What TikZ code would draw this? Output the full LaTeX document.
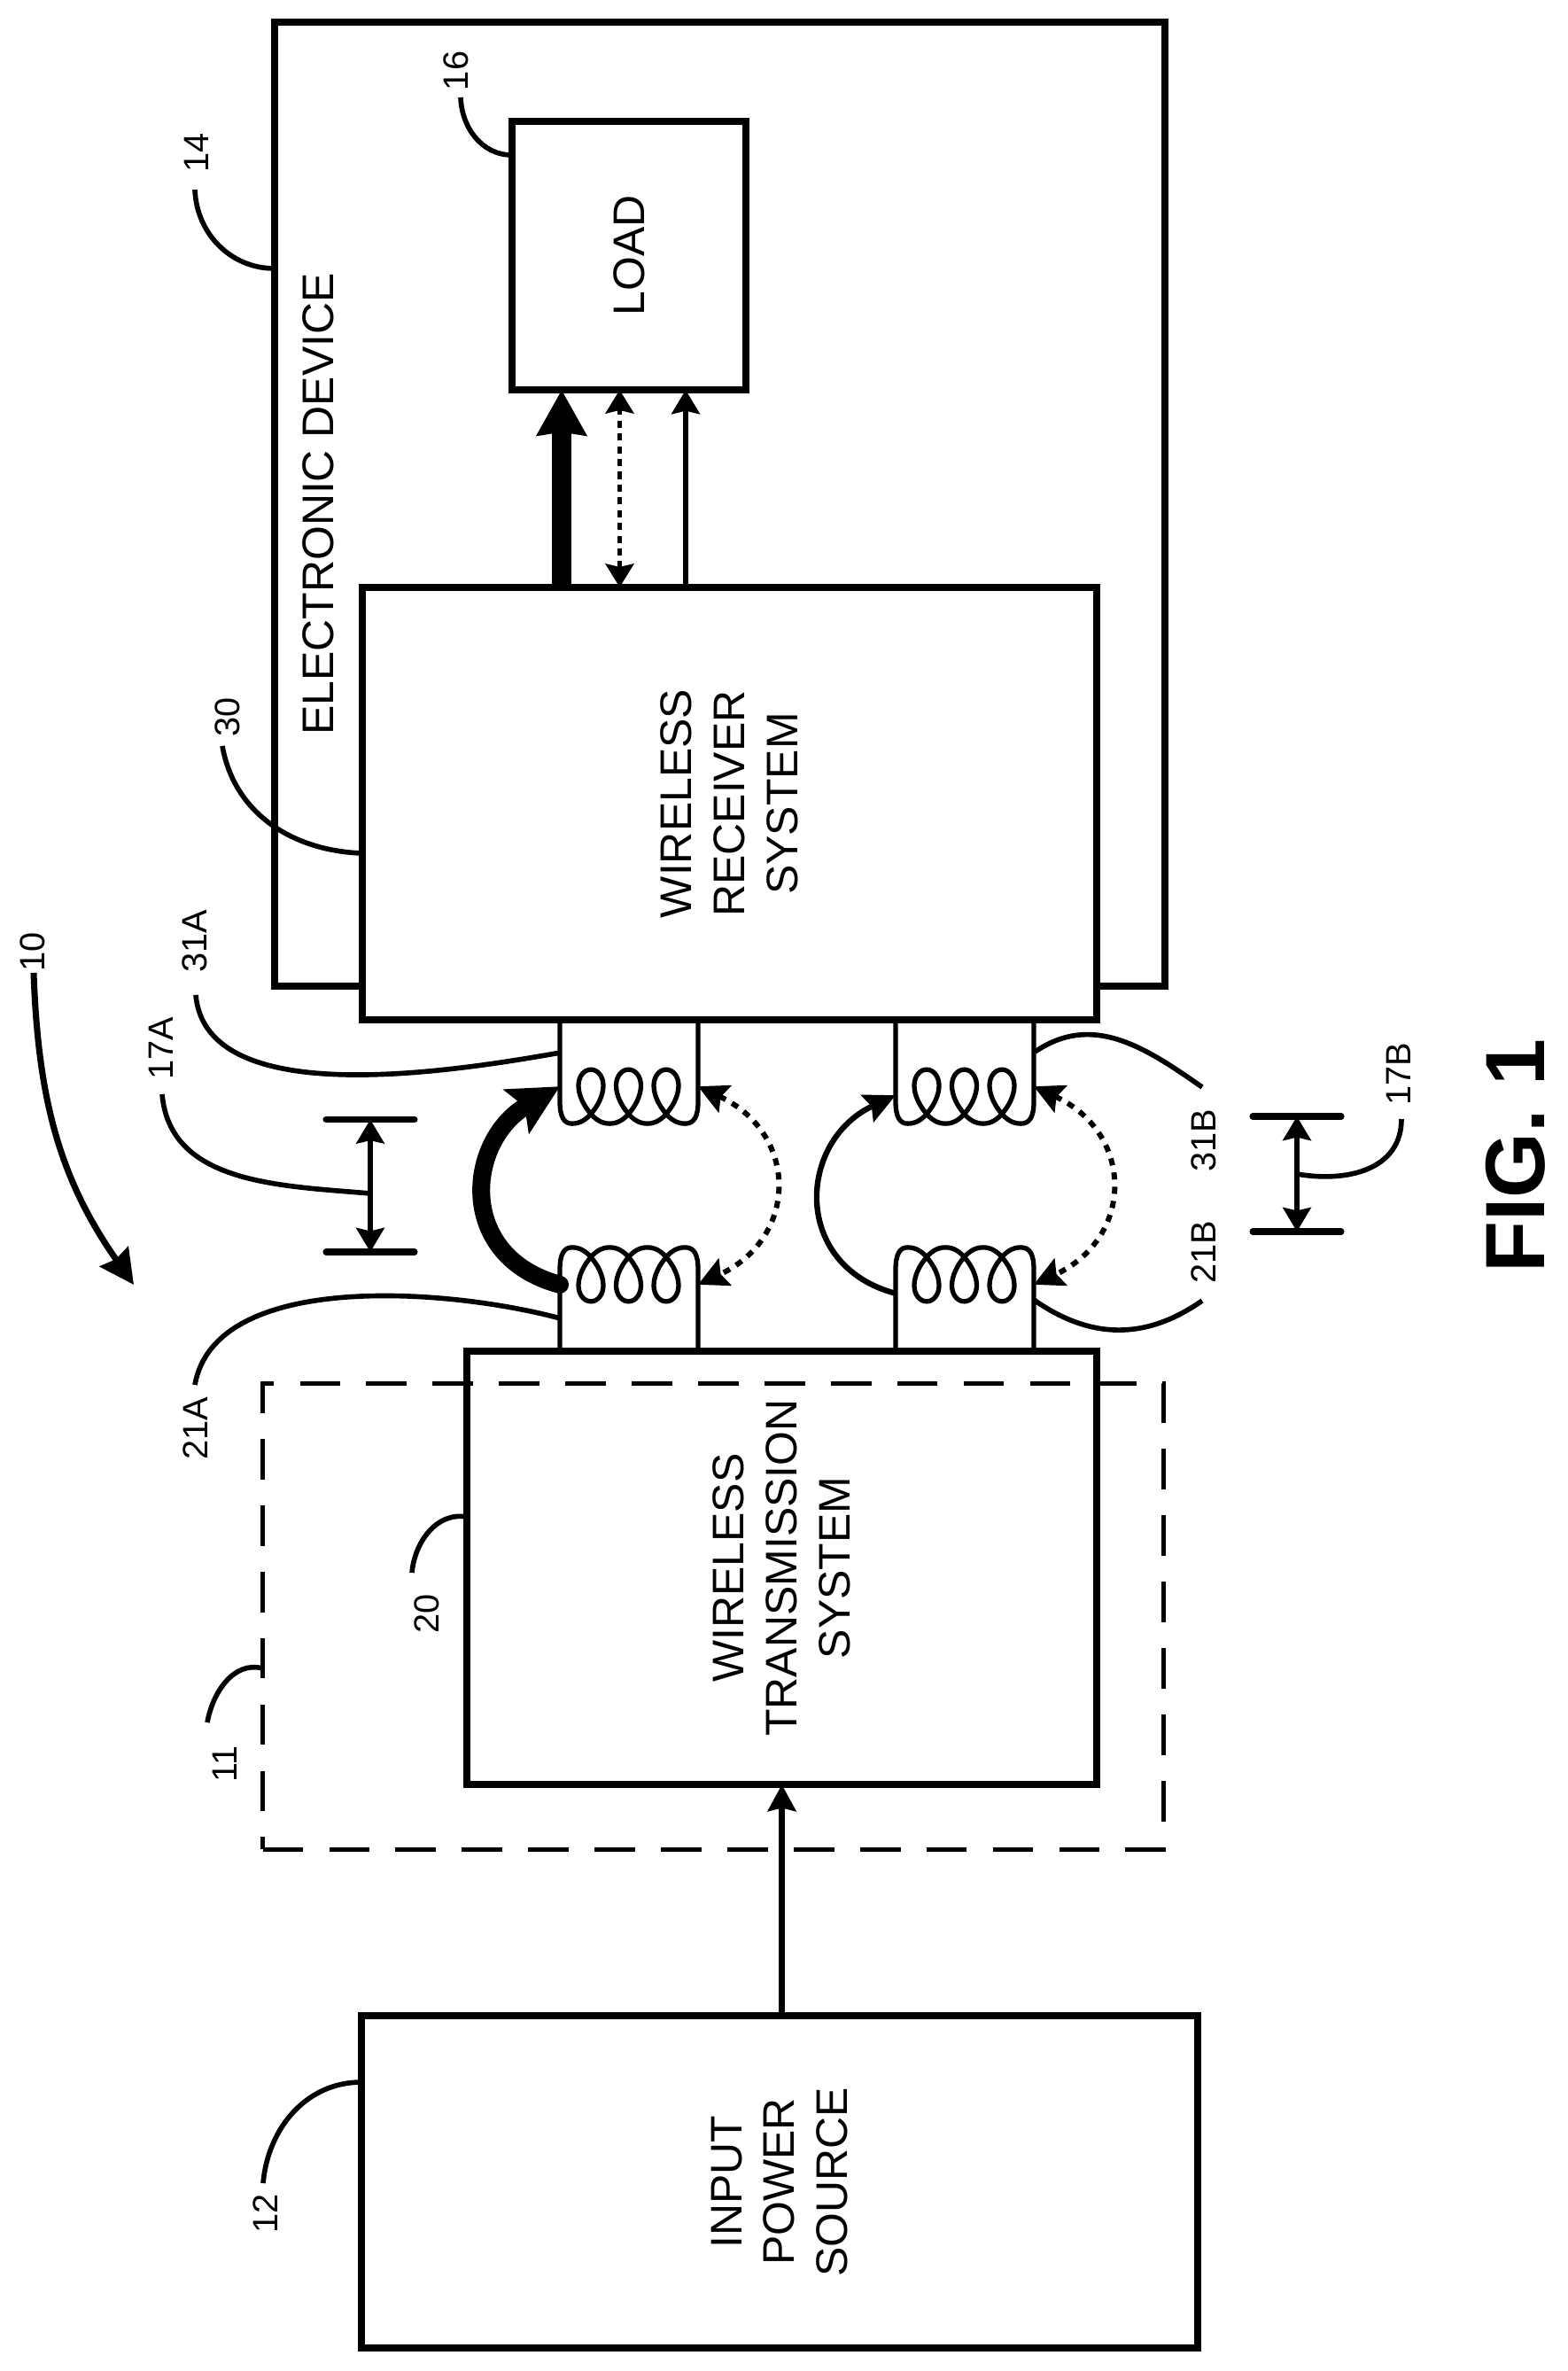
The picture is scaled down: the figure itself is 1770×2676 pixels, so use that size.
\documentclass[tikz,border=0pt]{standalone}
\usepackage{fontspec}
\setmainfont{Liberation Sans}
\usetikzlibrary{arrows.meta}

\begin{document}
\begin{tikzpicture}[
            x=0.01cm, y=-0.01cm,
            sys-box/.style={
                draw,
                line width=2.2pt,
                fill=white,
                rotate=90,
                align=center,
                outer sep=0pt,
                font=\fontsize{14.2}{17}\selectfont
            },
            ref-num/.style={
                rotate=90,
                inner sep=0pt,
                font=\fontsize{11.3}{13}\selectfont
            },
            lead/.style={line width=1.6pt},
            coil-wire/.style={line width=1.5pt},
            gap-bar/.style={line width=2pt, line cap=round},
            gap-arrow/.style={line width=1.5pt, {Stealth[length=7.7pt, width=9pt, inset=1pt]}-{Stealth[length=7.7pt, width=9pt, inset=1pt]}},
            feed-arrow/.style={line width=1.8pt, -{Stealth[length=10pt, width=9.5pt, inset=1.5pt]}},
            link-arrow/.style={line width=1.7pt, dash pattern=on 2.3pt off 2.3pt, {Stealth[length=9.5pt, width=9.5pt, inset=1.5pt]}-{Stealth[length=9.5pt, width=9.5pt, inset=1.5pt]}},
            coil/.pic={
                \draw[coil-wire] (0,0) -- (0,92) .. controls (0,110) and (5,117) .. (13.75,117)
                    \foreach \lx in {35,77.5,120} {
                        .. controls (\lx-12,117) and (\lx-5,112) .. (\lx,106)
                        .. controls (\lx+8,97) and (\lx+14,85) .. (\lx+14,74)
                        .. controls (\lx+14,64) and (\lx+8,56) .. (\lx,56)
                        .. controls (\lx-8,56) and (\lx-14,64) .. (\lx-14,74)
                        .. controls (\lx-14,85) and (\lx-8,97) .. (\lx,106)
                        .. controls (\lx+5,112) and (\lx+12,117) .. (\lx+21.25,117)
                    }
                    .. controls (151,117) and (156,110) .. (156,92) -- (156,0);
                \coordinate (-left) at (0,75);
                \coordinate (-right) at (156,75);
                \coordinate (-near) at (0,65);
                \coordinate (-far) at (0,85);
                \coordinate (-tap) at (0,37);
            }
        ]
        \useasboundingbox (0,0) rectangle (1770,2676);

        % blocks
        \node[sys-box, minimum width=10.88cm, minimum height=10.05cm] (device) at (812.5,569) {};
        \node[rotate=90, font=\fontsize{14.2}{17}\selectfont] (devicetext) at (359,569) {ELECTRONIC DEVICE};
        \node[sys-box, minimum width=3.03cm, minimum height=2.64cm] (load) at (710,288.5) {LOAD};
        \node[sys-box, minimum width=4.88cm, minimum height=8.29cm] (receiver) at (823.5,907) {WIRELESS\\RECEIVER\\SYSTEM};
        \node[sys-box, minimum width=4.89cm, minimum height=7.11cm] (transmitter) at (882.5,1769.5) {WIRELESS\\TRANSMISSION\\SYSTEM};
        \node[sys-box, minimum width=3.75cm, minimum height=9.44cm] (source) at (880,2462.5) {INPUT\\POWER\\SOURCE};
        \node[draw, line width=1.4pt, dash pattern=on 13pt off 8.3pt, outer sep=0pt, minimum width=10.165cm, minimum height=5.25cm] (charger) at (805.2,1824.5) {};

        % coils
        \pic (coilAr) at (632,0 |- receiver.west) {coil};
        \pic (coilBr) at (1011,0 |- receiver.west) {coil};
        \pic[yscale=-1] (coilAt) at (632,0 |- transmitter.east) {coil};
        \pic[yscale=-1] (coilBt) at (1011,0 |- transmitter.east) {coil};

        % block arrows
        \draw[line width=2pt, -{Stealth[length=8.5pt, width=9pt, inset=1pt]}] (882.6,0 |- source.east) -- (882.6,0 |- transmitter.west);
        \draw[line width=6pt, -{Stealth[length=14.5pt, width=15.6pt, inset=1pt]}] (634,0 |- receiver.east) -- (634,0 |- load.west);
        \draw[line width=1.6pt, dash pattern=on 2.3pt off 1.8pt, {Stealth[length=7.5pt, width=9pt, inset=1pt]}-{Stealth[length=7.5pt, width=9pt, inset=1pt]}] (699.5,0 |- receiver.east) -- (699.5,0 |- load.west);
        \draw[line width=1.8pt, -{Stealth[length=7.7pt, width=9pt, inset=1pt]}] (774,0 |- receiver.east) -- (774,0 |- load.west);

        % coupling
        \draw[line width=5.7pt, line cap=round, -{Stealth[length=16pt, width=16pt, inset=3pt]}] (coilAt-left) to[out=165, in=-150, looseness=1.4] (coilAr-left);
        \draw[feed-arrow] (coilBt-near) to[out=165, in=-155, looseness=1.4] (coilBr-far);
        \draw[link-arrow] (coilAr-right) to[out=-25, in=25, looseness=1.44] (coilAt-right);
        \draw[link-arrow] (coilBr-right) to[out=-25, in=25, looseness=1.44] (coilBt-right);

        % gaps
        \foreach \gap/\gx/\ytop/\ybot in {gapA/418/1263.5/1413, gapB/1464/1260/1390} {
            \coordinate (\gap top) at (\gx,\ytop);
            \coordinate (\gap bot) at (\gx,\ybot);
            \draw[gap-arrow] (\gap top) -- (\gap bot);
            \draw[gap-bar] ([xshift=-0.5cm]\gap top) -- ([xshift=0.5cm]\gap top);
            \draw[gap-bar] ([xshift=-0.5cm]\gap bot) -- ([xshift=0.5cm]\gap bot);
        }

        % reference numerals and the free ends of their leaders
        \foreach \num/\lx/\ly/\tx/\ty in {
            10/37/1074/38/1098, 11/254/1991/234/1944, 12/300/2498/297/2464,
            14/222/172/220/214, 16/515/80/520/110, 20/482/1821/465/1775,
            30/257/809/251/842, 21A/221/1612/220/1563, 31A/220/1062/221/1123,
            17A/182/1183/183/1235, 17B/1579/1212/1582/1263, 21B/1359/1413/1357/1468,
            31B/1359/1287/1357/1227} {
            \node[ref-num] (lab\num) at (\lx,\ly) {\num};
            \coordinate (tail\num) at (\tx,\ty);
        }
        \coordinate (systemtip) at (151,1450);

        \draw[lead, line width=2pt, -{Stealth[length=11pt, width=11pt, inset=1pt]}] (tail10) to[out=-88, in=125] (systemtip);
        \draw[lead] (tail11) to[out=80, in=165] (charger.west |- 0,1883);
        \draw[lead] (tail12) to[out=85, in=180] (source.north |- 0,2350);
        \draw[lead] (tail14) to[out=-88, in=180] (device.north |- 0,303);
        \draw[lead] (tail16) to[out=-88, in=180] (load.north |- 0,175);
        \draw[lead] (tail20) to[out=85, in=170] (transmitter.north |- 0,1712);
        \draw[lead] (tail30) to[out=-80, in=178] (receiver.north |- 0,963);
        \draw[lead] (tail21A) to[out=80, in=165, looseness=0.8] (coilAt-tap);
        \draw[lead] (tail31A) to[out=-85, in=-170, looseness=0.8] (coilAr-tap);
        \draw[lead] (tail17A) to[out=-85, in=175] (gapAtop |- 0,1347);
        \draw[lead] (tail17B) to[out=-90, in=-10, looseness=1.1] (gapBtop |- 0,1325);
        \draw[lead] (tail21B) to[out=-145, in=-35, looseness=1.05] (coilBt-right |- 0,1467);
        \draw[lead] (tail31B) to[out=145, in=35, looseness=1.05] (coilBr-right |- 0,1188);

        \node[rotate=90, font=\fontsize{27}{30}\selectfont\bfseries] (figtitle) at (1710.5,1305) {FIG. 1};
\end{tikzpicture}
\end{document}
